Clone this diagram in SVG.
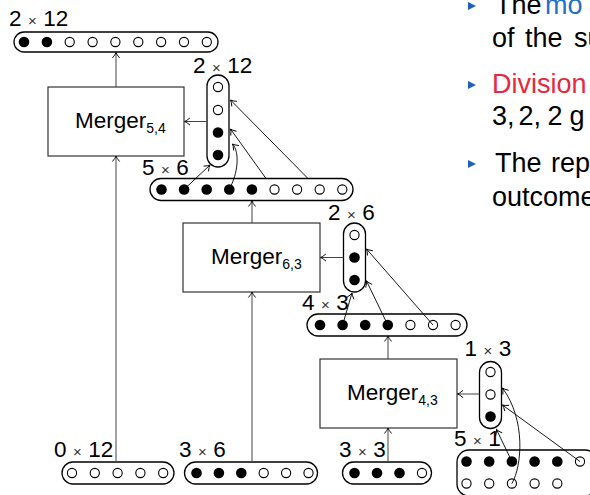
<svg xmlns="http://www.w3.org/2000/svg" width="590" height="495" viewBox="0 0 590 495">
  <style>
    .lbl { font-family: "Liberation Sans", Arial, sans-serif; font-size: 22.5px; fill: #000; }
    .tm { font-size: 15px; fill: #333; }
    .sub { font-size: 14px; }
    .body { font-family: "Liberation Sans", Arial, sans-serif; font-size: 27px; fill: #000; }
    .blue { fill: #1f6fcc; }
    .red { fill: #e8283c; }
    .cap { fill: #fff; stroke: #000; stroke-width: 1.3; }
    .box { fill: #fff; stroke: #333; stroke-width: 1.2; }
    .f { fill: #000; }
    .o { fill: #fff; stroke: #000; stroke-width: 1.1; }
    .flow { fill: none; stroke: #444; stroke-width: 1; marker-end: url(#ah); }
    .link { fill: none; stroke: #000; stroke-width: 0.9; marker-end: url(#ah); }
    .bul { fill: #1f5fbf; }
  </style>
  <defs>
    <marker id="ah" viewBox="-7 -5 8 10" markerWidth="8" markerHeight="10" refX="0" refY="0" orient="auto" markerUnits="userSpaceOnUse">
      <path d="M-5.5,-3.6 Q-2,-0.6 0,0 Q-2,0.6 -5.5,3.6" fill="none" stroke="#000" stroke-width="0.9"/>
    </marker>
  </defs>

  <!-- result row 2x12 -->
  <g id="out54">
    <rect class="cap" x="14" y="32" width="204" height="20" rx="10"/>
    <circle class="f" cx="24" cy="42" r="5.3"/>
    <circle class="f" cx="46.9" cy="42" r="5.3"/>
    <circle class="o" cx="69.7" cy="42" r="4.6"/>
    <circle class="o" cx="92.6" cy="42" r="4.6"/>
    <circle class="o" cx="115.4" cy="42" r="4.6"/>
    <circle class="o" cx="138.3" cy="42" r="4.6"/>
    <circle class="o" cx="161.1" cy="42" r="4.6"/>
    <circle class="o" cx="184" cy="42" r="4.6"/>
    <circle class="o" cx="206.8" cy="42" r="4.6"/>
    <text class="lbl" x="9" y="26">2<tspan class="tm" dx="6.5">×</tspan><tspan dx="6.5">12</tspan></text>
  </g>

  <g id="merger54">
    <rect class="box" x="48" y="87" width="136" height="69"/>
    <text class="lbl" x="75" y="128">Merger<tspan class="sub" dy="5">5,4</tspan></text>
  </g>

  <g id="v54">
    <rect class="cap" x="207" y="75" width="22" height="92" rx="11"/>
    <circle class="o" cx="218" cy="87" r="4.6"/>
    <circle class="o" cx="218" cy="110" r="4.6"/>
    <circle class="f" cx="218" cy="132.5" r="5.3"/>
    <circle class="f" cx="218" cy="155" r="5.3"/>
    <text class="lbl" x="193" y="73">2<tspan class="tm" dx="6.5">×</tspan><tspan dx="6.5">12</tspan></text>
  </g>

  <g id="row56">
    <rect class="cap" x="150" y="178.5" width="203" height="22" rx="11"/>
    <circle class="f" cx="161.5" cy="189.5" r="5.3"/>
    <circle class="f" cx="184.1" cy="189.5" r="5.3"/>
    <circle class="f" cx="206.7" cy="189.5" r="5.3"/>
    <circle class="f" cx="229.3" cy="189.5" r="5.3"/>
    <circle class="f" cx="251.9" cy="189.5" r="5.3"/>
    <circle class="o" cx="274.5" cy="189.5" r="4.6"/>
    <circle class="o" cx="297.1" cy="189.5" r="4.6"/>
    <circle class="o" cx="319.7" cy="189.5" r="4.6"/>
    <circle class="o" cx="342.3" cy="189.5" r="4.6"/>
    <text class="lbl" x="142" y="175">5<tspan class="tm" dx="6.5">×</tspan><tspan dx="6.5">6</tspan></text>
  </g>

  <g id="merger63">
    <rect class="box" x="183" y="223" width="137" height="69"/>
    <text class="lbl" x="211" y="264">Merger<tspan class="sub" dy="5">6,3</tspan></text>
  </g>

  <g id="v63">
    <rect class="cap" x="343.5" y="223" width="22" height="69" rx="11"/>
    <circle class="o" cx="354.5" cy="235" r="4.6"/>
    <circle class="f" cx="354.5" cy="257.5" r="5.3"/>
    <circle class="f" cx="354.5" cy="280" r="5.3"/>
    <text class="lbl" x="328" y="220">2<tspan class="tm" dx="6.5">×</tspan><tspan dx="6.5">6</tspan></text>
  </g>

  <g id="row43">
    <rect class="cap" x="307" y="314" width="160" height="22" rx="11"/>
    <circle class="f" cx="320" cy="325" r="5.3"/>
    <circle class="f" cx="342.6" cy="325" r="5.3"/>
    <circle class="f" cx="365.2" cy="325" r="5.3"/>
    <circle class="f" cx="387.8" cy="325" r="5.3"/>
    <circle class="o" cx="410.4" cy="325" r="4.6"/>
    <circle class="o" cx="433" cy="325" r="4.6"/>
    <circle class="o" cx="455.6" cy="325" r="4.6"/>
    <text class="lbl" x="302" y="310">4<tspan class="tm" dx="6.5">×</tspan><tspan dx="6.5">3</tspan></text>
  </g>

  <g id="merger43">
    <rect class="box" x="320" y="359" width="137" height="69"/>
    <text class="lbl" x="347" y="400">Merger<tspan class="sub" dy="5">4,3</tspan></text>
  </g>

  <g id="v43">
    <rect class="cap" x="479.5" y="361.5" width="22" height="67" rx="11"/>
    <circle class="o" cx="490.5" cy="372" r="4.6"/>
    <circle class="o" cx="490.5" cy="394.5" r="4.6"/>
    <circle class="f" cx="490.5" cy="416.5" r="5.3"/>
    <text class="lbl" x="464.5" y="356">1<tspan class="tm" dx="6.5">×</tspan><tspan dx="6.5">3</tspan></text>
  </g>

  <g id="in012">
    <rect class="cap" x="62" y="462" width="112" height="22" rx="11"/>
    <circle class="o" cx="72" cy="473" r="4.6"/>
    <circle class="o" cx="94.8" cy="473" r="4.6"/>
    <circle class="o" cx="117.6" cy="473" r="4.6"/>
    <circle class="o" cx="140.4" cy="473" r="4.6"/>
    <circle class="o" cx="163.2" cy="473" r="4.6"/>
    <text class="lbl" x="54" y="457">0<tspan class="tm" dx="6.5">×</tspan><tspan dx="6.5">12</tspan></text>
  </g>

  <g id="in36">
    <rect class="cap" x="184.5" y="462" width="133" height="22" rx="11"/>
    <circle class="f" cx="196.5" cy="473" r="5.3"/>
    <circle class="f" cx="218.9" cy="473" r="5.3"/>
    <circle class="f" cx="241.3" cy="473" r="5.3"/>
    <circle class="o" cx="263.7" cy="473" r="4.6"/>
    <circle class="o" cx="286.1" cy="473" r="4.6"/>
    <circle class="o" cx="308.5" cy="473" r="4.6"/>
    <text class="lbl" x="179" y="457">3<tspan class="tm" dx="6.5">×</tspan><tspan dx="6.5">6</tspan></text>
  </g>

  <g id="in33">
    <rect class="cap" x="342.5" y="462" width="89" height="22" rx="11"/>
    <circle class="f" cx="354.5" cy="473" r="5.3"/>
    <circle class="f" cx="377" cy="473" r="5.3"/>
    <circle class="f" cx="399.5" cy="473" r="5.3"/>
    <circle class="o" cx="422" cy="473" r="4.6"/>
    <text class="lbl" x="339" y="457">3<tspan class="tm" dx="6.5">×</tspan><tspan dx="6.5">3</tspan></text>
  </g>

  <g id="in51">
    <rect class="cap" x="457" y="450" width="140" height="46" rx="12"/>
    <circle class="f" cx="466.5" cy="461.5" r="5.3"/>
    <circle class="f" cx="489.2" cy="461.5" r="5.3"/>
    <circle class="f" cx="511.9" cy="461.5" r="5.3"/>
    <circle class="f" cx="534.6" cy="461.5" r="5.3"/>
    <circle class="f" cx="557.3" cy="461.5" r="5.3"/>
    <circle class="o" cx="580" cy="461.5" r="4.6"/>
    <circle class="o" cx="466.5" cy="483.5" r="4.6"/>
    <circle class="o" cx="489.2" cy="483.5" r="4.6"/>
    <circle class="o" cx="511.9" cy="483.5" r="4.6"/>
    <circle class="o" cx="534.6" cy="483.5" r="4.6"/>
    <circle class="o" cx="557.3" cy="483.5" r="4.6"/>
    <text class="lbl" x="454" y="446">5<tspan class="tm" dx="6.5">×</tspan><tspan dx="6.5">1</tspan></text>
  </g>

  <!-- connectors -->
  <g id="connectors">
    <path class="flow" d="M116,462 V156"/>
    <path class="flow" d="M116,87 V52.5"/>
    <path class="flow" d="M252,462 V292"/>
    <path class="flow" d="M252,223 V201"/>
    <path class="flow" d="M388,462 V428"/>
    <path class="flow" d="M388,359 V336"/>
    <path class="flow" d="M207,121.5 H184.5"/>
    <path class="flow" d="M343.5,257.5 H320.5"/>
    <path class="flow" d="M479.5,394 H457.5"/>

    <path class="link" d="M184.5,189 L210,165"/>
    <path class="link" d="M229.3,189 C238,174 240,152 232.5,144"/>
    <path class="link" d="M266,178.5 L230.5,129"/>
    <path class="link" d="M308,178.5 L230.5,100"/>

    <path class="link" d="M342.6,325 L352,293"/>
    <path class="link" d="M387.8,325 L366.5,281"/>
    <path class="link" d="M433,325 L366.5,249"/>

    <path class="link" d="M511.9,461.5 L496.5,429.5"/>
    <path class="link" d="M511.9,483.5 C522,466 526,420 502.5,388"/>
    <path class="link" d="M580,461.5 L502.5,405"/>
  </g>

  <!-- bullet text at right -->
  <g id="notes">
    <polygon class="bul" points="468,2 476,6 468,10"/>
    <text class="body" y="14"><tspan x="495">The</tspan><tspan x="545" class="blue">mo</tspan></text>
    <text class="body" y="47"><tspan x="492">of</tspan><tspan x="525">the</tspan><tspan x="574">su</tspan></text>
    <polygon class="bul" points="468,81 476,85 468,89"/>
    <text class="body red" x="492" y="93">Division</text>
    <text class="body" y="125"><tspan x="492">3,</tspan><tspan x="518.5">2,</tspan><tspan x="547.5">2</tspan><tspan x="569.5">g</tspan></text>
    <polygon class="bul" points="468,160 476,164 468,168"/>
    <text class="body" y="172"><tspan x="495">The</tspan><tspan x="551">rep</tspan></text>
    <text class="body" x="492" y="206">outcome</text>
  </g>
</svg>
